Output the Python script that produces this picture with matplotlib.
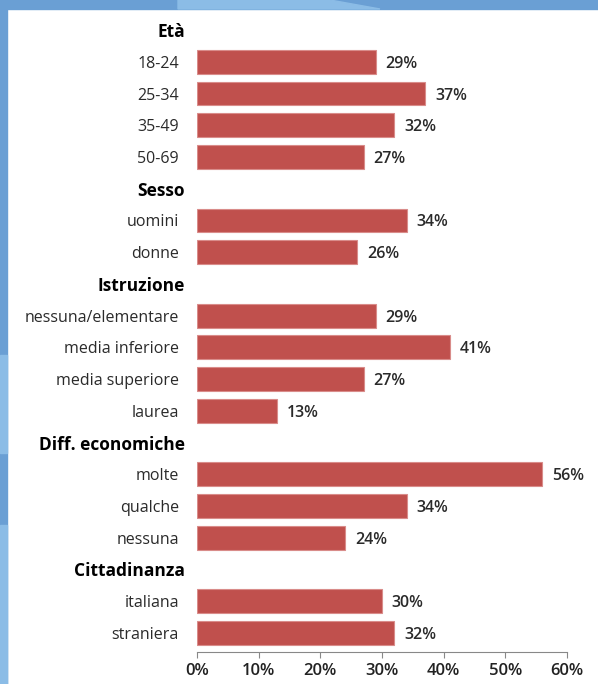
import matplotlib
matplotlib.use("Agg")
import matplotlib.pyplot as plt
from matplotlib.patches import Rectangle, Polygon

# ---- data ----
groups = ["Età", "Sesso", "Istruzione", "Diff. economiche", "Cittadinanza"]
group_categories = [
    ["18-24", "25-34", "35-49", "50-69"],
    ["uomini", "donne"],
    ["nessuna/elementare", "media inferiore", "media superiore", "laurea"],
    ["molte", "qualche", "nessuna"],
    ["italiana", "straniera"],
]
group_values = [
    [29, 37, 32, 27],
    [34, 26],
    [29, 41, 27, 13],
    [56, 34, 24],
    [30, 32],
]
x_ticks = [0, 10, 20, 30, 40, 50, 60]
x_tick_labels = ["0%", "10%", "20%", "30%", "40%", "50%", "60%"]

W, H = 598, 684
fig = plt.figure(figsize=(W / 100, H / 100), dpi=100)
fig.patch.set_facecolor("white")

# decorative blue frame
dark = "#6A9FD4"
light = "#8BBCE6"
fig.patches.append(Rectangle((0, 1 - 9 / H), 1, 9 / H, transform=fig.transFigure, color=dark, zorder=0))
fig.patches.append(Polygon([(178 / W, 1), (330 / W, 1), (380 / W, 1 - 9 / H), (178 / W, 1 - 9 / H)],
                           closed=True, transform=fig.transFigure, color=light, zorder=0))
fig.patches.append(Rectangle((0, 0), 7 / W, 1, transform=fig.transFigure, color=dark, zorder=0))
for y0, y1 in [(355, 453), (525, 684)]:
    fig.patches.append(Rectangle((0, 1 - y1 / H), 7 / W, (y1 - y0) / H,
                                 transform=fig.transFigure, color=light, zorder=0))

ax = fig.add_axes([197 / W, 1 - 652 / H, (567 - 197) / W, (652 - 11) / H])
ax.set_facecolor("none")

font = "Open Sans"
row = 0
ytick_pos, ytick_lab = [], []
for g, cats, vals in zip(groups, group_categories, group_values):
    ax.text(-2.0, row, g, ha="right", va="center_baseline", fontsize=12.5, fontweight="bold",
            family=font, color="black")
    row += 1
    for c, v in zip(cats, vals):
        ax.barh(row, v, height=0.75, color="#C0504D", edgecolor="#D98C8A", linewidth=0.8)
        ax.text(v + 1.6, row, f"{v}%", ha="left", va="center_baseline", fontsize=11.5,
                fontweight="semibold", family=font, color="#2a2a2a")
        ytick_pos.append(row)
        ytick_lab.append(c)
        row += 1

ax.set_ylim(row - 0.4, -0.6)
ax.set_xlim(0, 60)
ax.set_yticks(ytick_pos)
ax.set_yticklabels(ytick_lab, fontsize=11.5, family=font, color="#2a2a2a")
ax.tick_params(axis="y", length=0, pad=13)
ax.set_xticks(x_ticks)
ax.set_xticklabels(x_tick_labels, fontsize=12, fontweight="semibold", family=font, color="#222222")
ax.tick_params(axis="x", length=4, color="#888888", direction="out", pad=4)
for s in ["top", "right", "left"]:
    ax.spines[s].set_visible(False)
ax.spines["bottom"].set_color("#888888")

fig.savefig("out.png", dpi=100)
